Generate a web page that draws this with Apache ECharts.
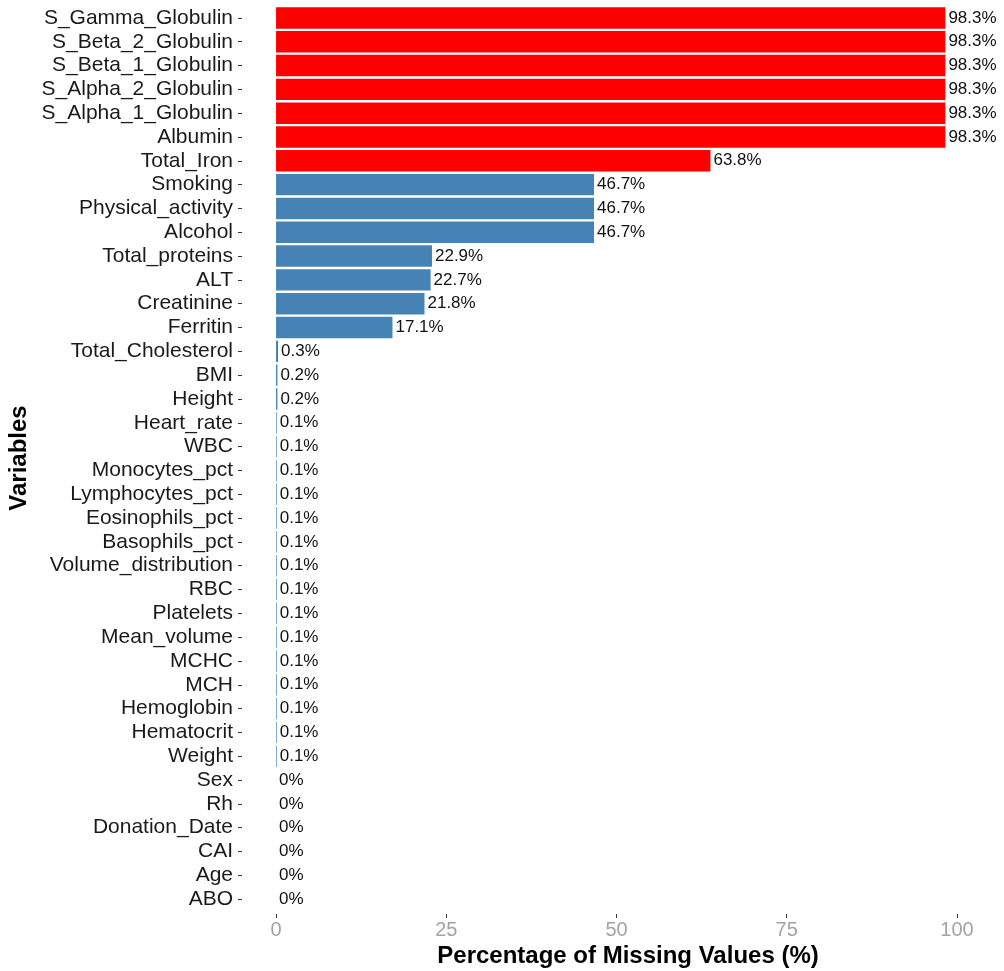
<!DOCTYPE html>
<html>
<head>
<meta charset="utf-8">
<script src="https://cdn.jsdelivr.net/npm/echarts@6/dist/echarts.min.js"></script>
<style>
html,body{margin:0;padding:0;background:#fff;}
#chart{width:1004px;height:971px;}
</style>
</head>
<body>
<div id="chart"></div>
<script>
const categories = ["S_Gamma_Globulin","S_Beta_2_Globulin","S_Beta_1_Globulin","S_Alpha_2_Globulin","S_Alpha_1_Globulin","Albumin","Total_Iron","Smoking","Physical_activity","Alcohol","Total_proteins","ALT","Creatinine","Ferritin","Total_Cholesterol","BMI","Height","Heart_rate","WBC","Monocytes_pct","Lymphocytes_pct","Eosinophils_pct","Basophils_pct","Volume_distribution","RBC","Platelets","Mean_volume","MCHC","MCH","Hemoglobin","Hematocrit","Weight","Sex","Rh","Donation_Date","CAI","Age","ABO"];
const missingPct = [98.3,98.3,98.3,98.3,98.3,98.3,63.8,46.7,46.7,46.7,22.9,22.7,21.8,17.1,0.3,0.2,0.2,0.1,0.1,0.1,0.1,0.1,0.1,0.1,0.1,0.1,0.1,0.1,0.1,0.1,0.1,0.1,0,0,0,0,0,0];
const xTicks = [0,25,50,75,100];
const xRange = [-5,105];
const threshold = 50;

const chart = echarts.init(document.getElementById('chart'), null, {renderer:'canvas'});
const font = 'Liberation Sans, Arial, Helvetica, sans-serif';
chart.setOption({
  animation:false,
  backgroundColor:'#ffffff',
  grid:{left:242,right:13,top:6,bottom:60,containLabel:false},
  xAxis:{
    type:'value',min:xRange[0],max:xRange[1],
    offset:3,
    axisLine:{show:false,onZero:false},
    splitLine:{show:false},
    axisTick:{show:true,length:4,customValues:xTicks,lineStyle:{color:'#333333',width:1}},
    axisLabel:{color:'#a3a3a3',fontSize:20,fontFamily:font,margin:6,customValues:xTicks}
  },
  yAxis:{
    type:'category',data:categories,inverse:true,
    axisLine:{show:false,onZero:false},
    splitLine:{show:false},
    axisTick:{show:true,length:4,alignWithLabel:true,interval:0,lineStyle:{color:'#333333',width:1}},
    axisLabel:{color:'#1a1a1a',fontSize:21,fontFamily:font,margin:9,interval:0}
  },
  graphic:[
    {type:'text',x:628,y:956,style:{text:'Percentage of Missing Values (%)',font:'bold 24px '+font,fill:'#000',textAlign:'center',textVerticalAlign:'middle'}},
    {type:'text',x:19,y:458,rotation:Math.PI/2,style:{text:'Variables',font:'bold 24px '+font,fill:'#000',textAlign:'center',textVerticalAlign:'middle'}}
  ],
  series:[{
    type:'bar',
    data:missingPct.map(v=>({value:v,itemStyle:{color: v>threshold ? '#FF0000' : '#4682B4'}})),
    barCategoryGap:'10%',
    label:{show:true,position:'right',distance:3,color:'#111',fontSize:17,fontFamily:font,
      formatter:p=>p.value+'%'}
  }]
});
</script>
</body>
</html>
